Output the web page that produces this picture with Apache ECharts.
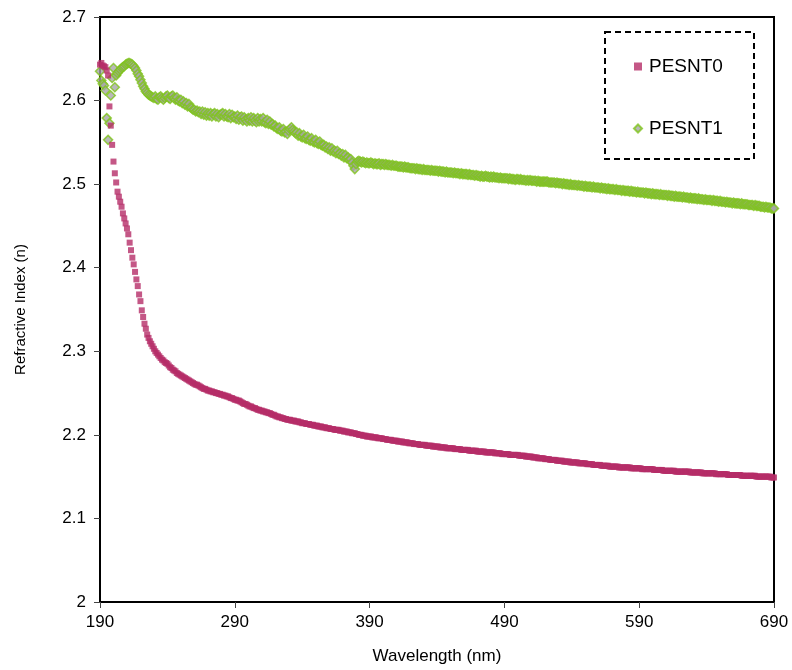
<!DOCTYPE html>
<html>
<head>
<meta charset="utf-8">
<title>Refractive Index vs Wavelength</title>
<script src="https://cdn.jsdelivr.net/npm/echarts@6/dist/echarts.min.js"></script>
<style>
  html, body { margin: 0; padding: 0; background: #ffffff; }
  #chart { width: 792px; height: 670px; }
</style>
</head>
<body>
<div id="chart"></div>
<script>
// Wavelength grid (nm): one reading per nanometre
const WL_START = 190;
const WL_STEP = 1;

const X_TICKS = [190, 290, 390, 490, 590, 690];
const Y_TICKS = [2, 2.1, 2.2, 2.3, 2.4, 2.5, 2.6, 2.7];

const SERIES_NAMES = ['PESNT0', 'PESNT1'];

// Refractive index n, PESNT0, 190–690 nm
const pesnt0 = [
  2.643,2.645,2.642,2.641,2.640,2.636,2.630,2.593,2.570,2.547,
  2.527,2.513,2.502,2.491,2.485,2.479,2.473,2.465,2.459,2.453,
  2.447,2.440,2.430,2.421,2.412,2.404,2.395,2.386,2.378,2.368,
  2.360,2.349,2.341,2.333,2.327,2.320,2.316,2.312,2.309,2.306,
  2.303,2.300,2.298,2.296,2.294,2.292,2.290,2.289,2.287,2.286,
  2.285,2.283,2.281,2.280,2.278,2.277,2.276,2.274,2.273,2.272,
  2.271,2.270,2.269,2.268,2.267,2.266,2.265,2.264,2.263,2.262,
  2.261,2.260,2.260,2.259,2.258,2.257,2.256,2.255,2.255,2.254,
  2.253,2.253,2.252,2.252,2.251,2.251,2.250,2.250,2.249,2.249,
  2.248,2.248,2.247,2.247,2.246,2.246,2.245,2.244,2.244,2.243,
  2.242,2.242,2.241,2.241,2.240,2.239,2.238,2.237,2.237,2.236,
  2.235,2.234,2.234,2.233,2.232,2.232,2.231,2.230,2.230,2.229,
  2.229,2.228,2.228,2.227,2.227,2.226,2.226,2.225,2.224,2.224,
  2.223,2.222,2.222,2.221,2.221,2.220,2.220,2.219,2.219,2.218,
  2.218,2.218,2.217,2.217,2.217,2.216,2.216,2.216,2.215,2.215,
  2.214,2.214,2.214,2.213,2.213,2.213,2.212,2.212,2.212,2.211,
  2.211,2.211,2.210,2.210,2.210,2.209,2.209,2.209,2.208,2.208,
  2.208,2.207,2.207,2.207,2.206,2.206,2.206,2.206,2.205,2.205,
  2.205,2.204,2.204,2.204,2.203,2.203,2.203,2.202,2.202,2.202,
  2.201,2.201,2.200,2.200,2.200,2.199,2.199,2.199,2.198,2.198,
  2.198,2.198,2.197,2.197,2.197,2.197,2.196,2.196,2.196,2.196,
  2.195,2.195,2.195,2.194,2.194,2.194,2.194,2.193,2.193,2.193,
  2.193,2.192,2.192,2.192,2.192,2.191,2.191,2.191,2.191,2.190,
  2.190,2.190,2.190,2.189,2.189,2.189,2.189,2.188,2.188,2.188,
  2.188,2.188,2.187,2.187,2.187,2.187,2.187,2.186,2.186,2.186,
  2.186,2.186,2.185,2.185,2.185,2.185,2.185,2.184,2.184,2.184,
  2.184,2.184,2.184,2.183,2.183,2.183,2.183,2.183,2.182,2.182,
  2.182,2.182,2.182,2.182,2.181,2.181,2.181,2.181,2.181,2.181,
  2.180,2.180,2.180,2.180,2.180,2.180,2.179,2.179,2.179,2.179,
  2.179,2.179,2.179,2.178,2.178,2.178,2.178,2.178,2.177,2.177,
  2.177,2.177,2.177,2.177,2.176,2.176,2.176,2.176,2.176,2.176,
  2.176,2.175,2.175,2.175,2.175,2.175,2.174,2.174,2.174,2.174,
  2.174,2.173,2.173,2.173,2.173,2.172,2.172,2.172,2.172,2.172,
  2.171,2.171,2.171,2.171,2.170,2.170,2.170,2.170,2.170,2.169,
  2.169,2.169,2.169,2.169,2.168,2.168,2.168,2.168,2.168,2.167,
  2.167,2.167,2.167,2.167,2.167,2.166,2.166,2.166,2.166,2.166,
  2.166,2.165,2.165,2.165,2.165,2.165,2.164,2.164,2.164,2.164,
  2.164,2.164,2.163,2.163,2.163,2.163,2.163,2.163,2.162,2.162,
  2.162,2.162,2.162,2.162,2.162,2.161,2.161,2.161,2.161,2.161,
  2.161,2.161,2.161,2.161,2.160,2.160,2.160,2.160,2.160,2.160,
  2.160,2.160,2.159,2.159,2.159,2.159,2.159,2.159,2.159,2.159,
  2.159,2.158,2.158,2.158,2.158,2.158,2.158,2.158,2.157,2.157,
  2.157,2.157,2.157,2.157,2.157,2.157,2.157,2.156,2.156,2.156,
  2.156,2.156,2.156,2.156,2.156,2.156,2.156,2.156,2.155,2.155,
  2.155,2.155,2.155,2.155,2.155,2.155,2.155,2.154,2.154,2.154,
  2.154,2.154,2.154,2.154,2.154,2.154,2.154,2.153,2.153,2.153,
  2.153,2.153,2.153,2.153,2.153,2.153,2.152,2.152,2.152,2.152,
  2.152,2.152,2.152,2.152,2.152,2.152,2.151,2.151,2.151,2.151,
  2.151,2.151,2.151,2.151,2.151,2.151,2.151,2.150,2.150,2.150,
  2.150,2.150,2.150,2.150,2.150,2.150,2.150,2.150,2.149,2.149,
  2.149
];

// Refractive index n, PESNT1, 190–690 nm
const pesnt1 = [
  2.635,2.624,2.620,2.618,2.612,2.579,2.553,2.573,2.606,2.627,
  2.639,2.616,2.630,2.633,2.635,2.637,2.639,2.640,2.641,2.643,
  2.644,2.645,2.645,2.644,2.643,2.641,2.639,2.636,2.632,2.629,
  2.625,2.621,2.617,2.614,2.611,2.609,2.607,2.606,2.605,2.604,
  2.603,2.605,2.602,2.601,2.604,2.605,2.603,2.601,2.603,2.605,
  2.606,2.603,2.602,2.605,2.606,2.603,2.601,2.604,2.600,2.599,
  2.601,2.597,2.599,2.595,2.597,2.593,2.596,2.592,2.591,2.589,
  2.589,2.587,2.588,2.586,2.587,2.584,2.587,2.583,2.586,2.582,
  2.585,2.582,2.585,2.581,2.584,2.585,2.581,2.584,2.580,2.583,
  2.584,2.585,2.581,2.584,2.581,2.580,2.584,2.579,2.583,2.580,
  2.581,2.578,2.582,2.577,2.580,2.581,2.576,2.580,2.577,2.575,
  2.579,2.576,2.580,2.575,2.579,2.576,2.574,2.579,2.575,2.578,
  2.575,2.579,2.574,2.573,2.577,2.572,2.575,2.571,2.572,2.569,
  2.570,2.567,2.566,2.568,2.564,2.563,2.566,2.562,2.563,2.560,
  2.564,2.566,2.568,2.565,2.563,2.561,2.562,2.558,2.561,2.557,
  2.556,2.559,2.555,2.554,2.557,2.553,2.552,2.555,2.551,2.550,
  2.553,2.549,2.548,2.551,2.547,2.546,2.547,2.544,2.545,2.542,
  2.544,2.540,2.543,2.539,2.540,2.537,2.540,2.536,2.537,2.534,
  2.536,2.532,2.535,2.531,2.532,2.529,2.530,2.526,2.522,2.518,
  2.524,2.527,2.528,2.527,2.526,2.527,2.526,2.525,2.526,2.525,
  2.525,2.526,2.525,2.524,2.525,2.524,2.524,2.525,2.523,2.524,
  2.524,2.523,2.524,2.523,2.523,2.523,2.522,2.523,2.522,2.522,
  2.522,2.521,2.521,2.521,2.521,2.520,2.521,2.520,2.520,2.520,
  2.519,2.519,2.519,2.519,2.518,2.519,2.518,2.518,2.518,2.517,
  2.518,2.517,2.517,2.517,2.517,2.516,2.517,2.516,2.516,2.516,
  2.516,2.515,2.516,2.515,2.515,2.515,2.514,2.515,2.514,2.514,
  2.514,2.514,2.513,2.514,2.513,2.513,2.513,2.512,2.513,2.512,
  2.512,2.512,2.512,2.511,2.512,2.511,2.511,2.511,2.510,2.511,
  2.510,2.510,2.509,2.510,2.509,2.509,2.510,2.509,2.509,2.508,
  2.509,2.508,2.509,2.508,2.508,2.508,2.507,2.508,2.507,2.507,
  2.507,2.507,2.507,2.506,2.507,2.506,2.506,2.506,2.505,2.506,
  2.506,2.505,2.506,2.505,2.505,2.505,2.504,2.505,2.504,2.505,
  2.504,2.504,2.504,2.504,2.503,2.504,2.503,2.503,2.503,2.503,
  2.503,2.503,2.503,2.502,2.502,2.502,2.502,2.502,2.501,2.502,
  2.501,2.501,2.501,2.500,2.501,2.500,2.500,2.500,2.499,2.500,
  2.499,2.499,2.499,2.499,2.498,2.499,2.498,2.498,2.498,2.497,
  2.498,2.497,2.497,2.497,2.497,2.496,2.497,2.496,2.496,2.496,
  2.496,2.495,2.496,2.495,2.495,2.495,2.494,2.495,2.494,2.494,
  2.494,2.494,2.493,2.494,2.493,2.493,2.493,2.492,2.493,2.492,
  2.492,2.492,2.492,2.491,2.492,2.491,2.491,2.491,2.490,2.491,
  2.490,2.490,2.490,2.490,2.489,2.490,2.489,2.489,2.489,2.488,
  2.489,2.488,2.488,2.488,2.488,2.487,2.488,2.487,2.487,2.487,
  2.487,2.486,2.487,2.486,2.486,2.486,2.485,2.486,2.485,2.485,
  2.485,2.485,2.484,2.485,2.484,2.484,2.484,2.483,2.484,2.483,
  2.483,2.483,2.483,2.482,2.483,2.482,2.482,2.482,2.481,2.482,
  2.481,2.481,2.481,2.481,2.480,2.481,2.480,2.480,2.480,2.479,
  2.480,2.479,2.479,2.479,2.478,2.479,2.478,2.478,2.478,2.477,
  2.478,2.477,2.477,2.477,2.477,2.476,2.477,2.476,2.476,2.476,
  2.476,2.475,2.475,2.475,2.475,2.474,2.475,2.474,2.474,2.474,
  2.473,2.473,2.473,2.472,2.473,2.472,2.472,2.472,2.471,2.471,
  2.471
];

function toPairs(values) {
  return values.map((n, i) => [WL_START + i * WL_STEP, n]);
}

const TICK_FONT = '"Liberation Sans Narrow", "Liberation Sans", Arial, sans-serif';
const LEGEND_FONT = '"Liberation Sans", Arial, sans-serif';

const chart = echarts.init(document.getElementById('chart'), null, { renderer: 'canvas' });

chart.setOption({
  backgroundColor: '#ffffff',
  animation: false,
  grid: {
    left: 100, right: 18, top: 17, bottom: 67,
    show: true, borderColor: '#000000', borderWidth: 2, backgroundColor: '#ffffff'
  },
  xAxis: {
    type: 'value',
    min: X_TICKS[0], max: X_TICKS[X_TICKS.length - 1],
    interval: X_TICKS[1] - X_TICKS[0],
    name: 'Wavelength (nm)',
    nameLocation: 'middle', nameGap: 46,
    nameTextStyle: { fontFamily: TICK_FONT, fontSize: 17, color: '#000' },
    axisLine: { show: true, onZero: false, lineStyle: { color: '#000', width: 2 } },
    axisTick: { show: true, length: 6, lineStyle: { color: '#444', width: 1 } },
    axisLabel: { fontFamily: TICK_FONT, fontSize: 17, color: '#000', margin: 12 },
    splitLine: { show: false }
  },
  yAxis: {
    type: 'value',
    min: Y_TICKS[0], max: Y_TICKS[Y_TICKS.length - 1],
    interval: 0.1,
    name: 'Refractive Index (n)',
    nameLocation: 'middle', nameGap: 72,
    nameTextStyle: { fontFamily: TICK_FONT, fontSize: 15, color: '#000' },
    axisLine: { show: true, lineStyle: { color: '#000', width: 2 } },
    axisTick: { show: true, length: 6, lineStyle: { color: '#444', width: 1 } },
    axisLabel: {
      fontFamily: TICK_FONT, fontSize: 17, color: '#000', margin: 14,
      formatter: v => String(Math.round(v * 10) / 10)
    },
    splitLine: { show: false }
  },
  legend: {
    data: SERIES_NAMES,
    orient: 'vertical',
    left: 628, top: 52,
    itemGap: 43,
    itemWidth: 8, itemHeight: 8,
    textStyle: { fontFamily: LEGEND_FONT, fontSize: 19, color: '#000', padding: [0, 0, 0, 2] }
  },
  graphic: [{
    type: 'rect',
    left: 604, top: 31,
    shape: { width: 149, height: 127 },
    style: { fill: 'transparent', stroke: '#000', lineWidth: 2, lineDash: [6, 4] },
    z: 10
  }],
  series: [
    {
      name: SERIES_NAMES[0],
      type: 'scatter',
      data: toPairs(pesnt0),
      symbol: 'rect',
      symbolSize: 6,
      itemStyle: { color: '#b52d68' },
      z: 3
    },
    {
      name: SERIES_NAMES[1],
      type: 'scatter',
      data: toPairs(pesnt1),
      symbol: 'diamond',
      symbolSize: 9,
      itemStyle: { color: '#a6a6a6', borderColor: '#80c41c', borderWidth: 1.5 },
      z: 2
    }
  ]
});
</script>
</body>
</html>
